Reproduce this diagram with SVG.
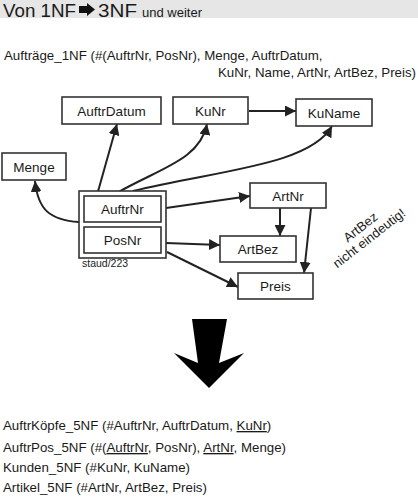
<svg xmlns="http://www.w3.org/2000/svg" width="418" height="497" viewBox="0 0 418 497">
<style>
text{font-family:"Liberation Sans",Arial,sans-serif;fill:#1a1a1a}
.box{fill:#fff;stroke:#333;stroke-width:1.6}
.lbl{font-size:13.5px;text-anchor:middle}
.con{fill:none;stroke:#222;stroke-width:2}
.rel{font-size:13.3px}
</style>
<defs>
<marker id="ah" viewBox="0 0 10 10" refX="10" refY="5" markerWidth="5.5" markerHeight="5.5" orient="auto" markerUnits="strokeWidth">
<path d="M0,0 L10,5 L0,10 z" fill="#222"/>
</marker>
</defs>
<g id="header">
<rect x="0" y="0" width="418" height="18" fill="#e6e6e6"/>
<text x="3" y="16.8" font-size="18.5" textLength="73" lengthAdjust="spacingAndGlyphs">Von 1NF</text>
<polygon points="79,6 87,6 87,3 95,9.5 87,16 87,13 79,13" fill="#111"/>
<text x="98" y="16.8" font-size="18.5" textLength="39" lengthAdjust="spacingAndGlyphs">3NF</text>
<text x="142" y="16.8" font-size="12" textLength="60" lengthAdjust="spacingAndGlyphs">und weiter</text>
</g>
<g id="schema1nf">
<text x="4" y="60" class="rel">Aufträge_1NF (#(AuftrNr, PosNr), Menge, AuftrDatum,</text>
<text x="218" y="77" class="rel">KuNr, Name, ArtNr, ArtBez, Preis)</text>
</g>
<g id="connectors">
<path class="con" d="M79,222 C50,220 38,210 35,181" marker-end="url(#ah)"/>
<path class="con" d="M97,195 L117,124" marker-end="url(#ah)"/>
<path class="con" d="M115,194 C160,168 200,160 207,124" marker-end="url(#ah)"/>
<path class="con" d="M133,191 C220,170 310,165 332,126" marker-end="url(#ah)"/>
<path class="con" d="M166,208 L250,196" marker-end="url(#ah)"/>
<path class="con" d="M166,243 L220,245" marker-end="url(#ah)"/>
<path class="con" d="M167,252 L238,287" marker-end="url(#ah)"/>
<path class="con" d="M249,111 L296,111" marker-end="url(#ah)"/>
<path class="con" d="M280,208 L280,236" marker-end="url(#ah)"/>
<path class="con" d="M311,208 L304,273" marker-end="url(#ah)"/>
</g>
<g id="AuftrDatum"><rect class="box" x="62" y="97" width="99" height="27"/><text class="lbl" x="111.5" y="115.5">AuftrDatum</text></g>
<g id="KuNr"><rect class="box" x="173" y="97" width="75" height="27"/><text class="lbl" x="210.5" y="115.5">KuNr</text></g>
<g id="KuName"><rect class="box" x="296" y="99" width="76" height="27"/><text class="lbl" x="334" y="117.5">KuName</text></g>
<g id="Menge"><rect class="box" x="2" y="153" width="64" height="27"/><text class="lbl" x="34" y="171.5">Menge</text></g>
<g id="Schluessel">
<rect class="box" x="79" y="191" width="87" height="67" stroke-width="2"/>
<g id="AuftrNr"><rect class="box" x="84" y="196" width="77" height="26"/><text class="lbl" x="122.5" y="214">AuftrNr</text></g>
<g id="PosNr"><rect class="box" x="84" y="227" width="77" height="26"/><text class="lbl" x="122.5" y="245">PosNr</text></g>
<text x="82" y="267" font-size="10.5">staud/223</text>
</g>
<g id="ArtNr"><rect class="box" x="250" y="183" width="76" height="25"/><text class="lbl" x="288" y="200.5">ArtNr</text></g>
<g id="ArtBez"><rect class="box" x="220" y="236" width="76" height="26"/><text class="lbl" x="258" y="254">ArtBez</text></g>
<g id="Preis"><rect class="box" x="238" y="273" width="75" height="26"/><text class="lbl" x="275.5" y="291">Preis</text></g>
<g id="note" transform="translate(365,233) rotate(-38)">
<text x="0" y="-3" font-size="13" text-anchor="middle">ArtBez</text>
<text x="0" y="11" font-size="13" text-anchor="middle">nicht eindeutig!</text>
</g>
<g id="bigArrow">
<polygon points="192,319 227,319 219,363 244,353 209,388 174,353 198,363" fill="#000"/>
</g>
<g id="schema5nf">
<text x="3" y="430" class="rel">AuftrKöpfe_5NF (#AuftrNr, AuftrDatum, <tspan text-decoration="underline">KuNr</tspan>)</text>
<text x="3" y="452" class="rel">AuftrPos_5NF (#(<tspan text-decoration="underline">AuftrNr</tspan>, PosNr), <tspan text-decoration="underline">ArtNr</tspan>, Menge)</text>
<text x="3" y="472" class="rel">Kunden_5NF (#KuNr, KuName)</text>
<text x="3" y="492" class="rel">Artikel_5NF (#ArtNr, ArtBez, Preis)</text>
</g>
</svg>
